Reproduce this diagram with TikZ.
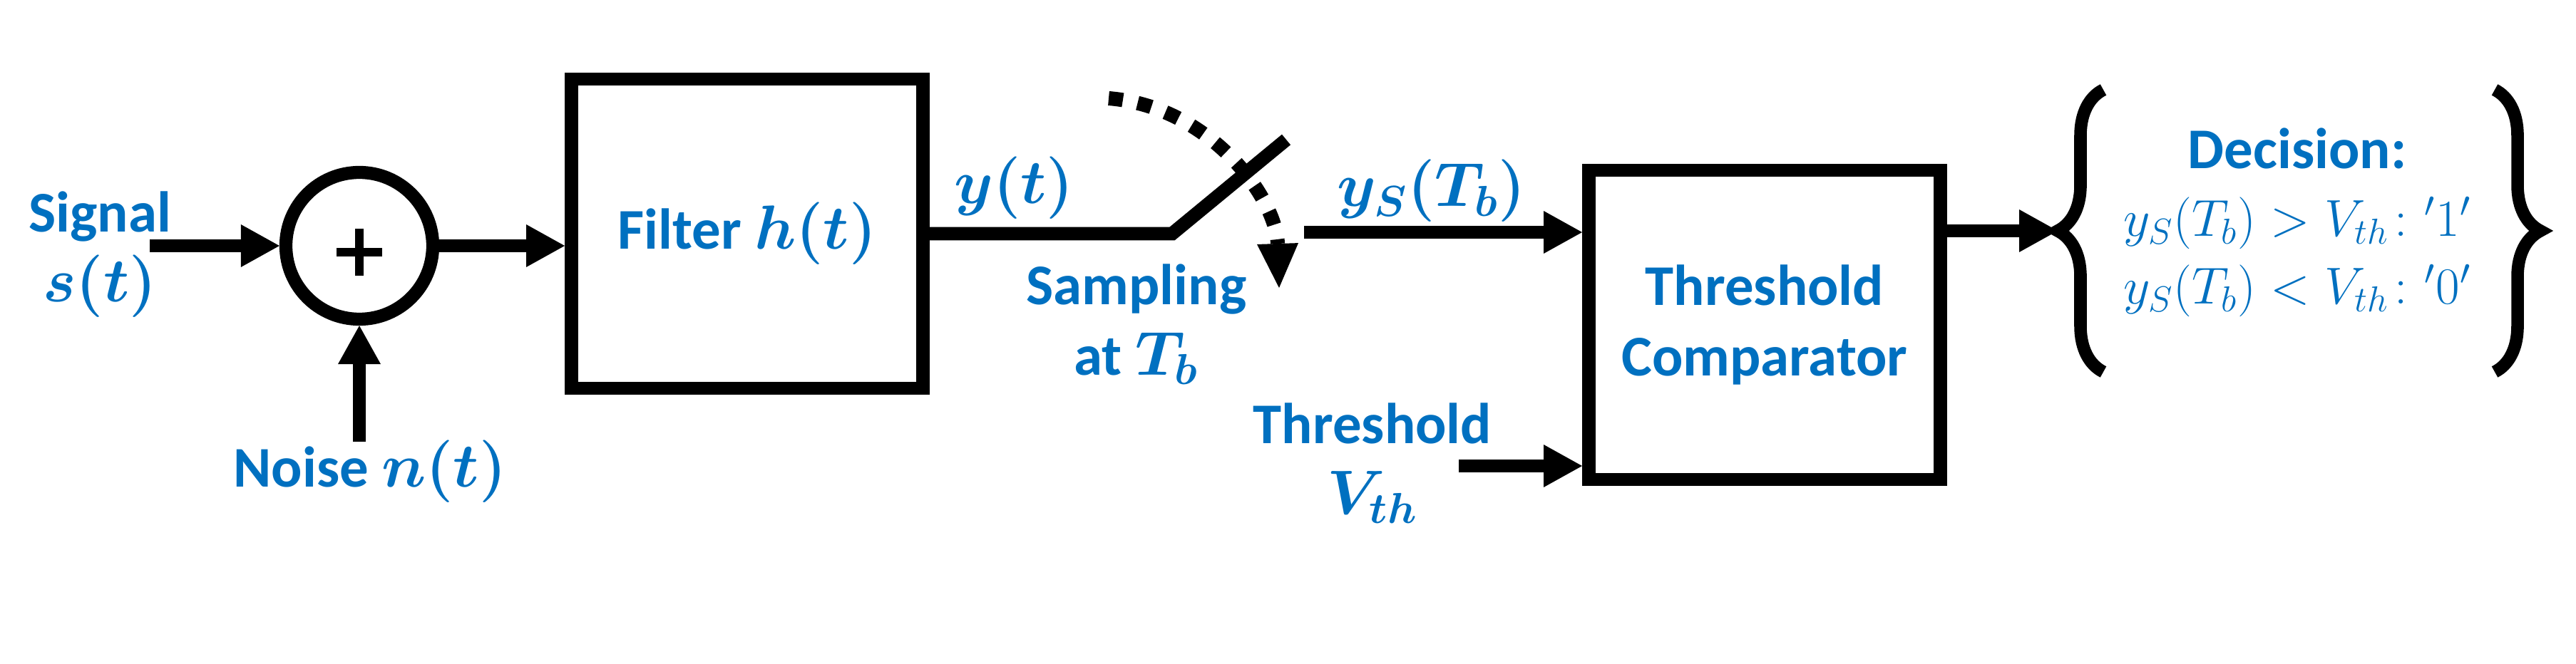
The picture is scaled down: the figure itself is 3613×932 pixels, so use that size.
\documentclass[tikz,border=0pt]{standalone}
\usepackage{fontspec}
\setmainfont{Carlito}
\usepackage{amsmath}
\usepackage{bm}
\usetikzlibrary{positioning, arrows.meta, decorations.pathreplacing}

\definecolor{labelblue}{RGB}{0,112,192}
\tikzset{
  lbl/.style={text=labelblue, align=center, inner sep=0pt, font=\fontsize{23}{28}\selectfont\bfseries\boldmath},
  lblplain/.style={text=labelblue, align=center, inner sep=0pt, font=\fontsize{21}{27}\selectfont},
  block/.style={draw, line width=5.4pt, minimum width=4.93cm, minimum height=4.34cm, lbl},
  sumcirc/.style={draw, circle, line width=5.2pt, minimum size=2.06cm},
  wire/.style={line width=5.4pt},
  flow/.style={wire, -{Triangle[length=5.4mm, width=6mm, line width=0pt]}},
  dotarrow/.style={line width=5.7pt, dash pattern=on 5.7pt off 6pt, -{Triangle[length=6.2mm, width=5.8mm, line width=0pt]}},
  curly/.style={line width=5pt, decorate, decoration={brace, amplitude=6.4mm}},
}

\begin{document}
\begin{tikzpicture}[x=0.1mm, y=-0.1mm]
\useasboundingbox (0,0) rectangle (3613,932);
% blocks
\node[sumcirc] (sum) at (504,345) {};
\node[block] (filter) at (1048,328) {Filter $h(t)$};
\node[block] (comp) at (2475,456) {Threshold\\Comparator};
\draw[line width=3.2pt] ([shift={(-32,9)}]sum.center) -- ([shift={(32,9)}]sum.center);
\draw[line width=3.2pt] ([shift={(0,-24)}]sum.center) -- ([shift={(0,42)}]sum.center);
% labels
\node[lbl] (signal) at (140,357) {Signal\\$s(t)$};
\node[lbl, anchor=base] (noise) at (519,684) {Noise $n(t)$};
\node[lbl, anchor=base] (ylab) at (1422,286) {$y(t)$};
\node[lbl] (sampling) at (1594,455) {Sampling\\at $T_b$};
\node[lbl, anchor=base] (yslab) at (2008,290) {$y_S(T_b)$};
\node[lbl] (thresh) at (1925,650) {Threshold\\$V_{th}$};
\node[lblplain] (decision) at (3222,312) {{\fontsize{23}{28}\selectfont\bfseries Decision:}\\$y_S(T_b) > V_{th}\colon{}^{\prime}1^{\prime}$\\$y_S(T_b) < V_{th}\colon{}^{\prime}0^{\prime}$};
% free ends
\coordinate (sin) at (210,345);
\coordinate (nin) at (504,620);
\coordinate (sw1) at (1644,328);
\coordinate (sw2) at (1804,196);
\coordinate (ysin) at (1829,326);
\coordinate (thin) at (2046,654);
\coordinate (dec) at (2886,324);
% connectors
\draw[flow] (sin) -- (sin -| sum.west);
\draw[flow] (nin) -- (sum.south);
\draw[flow] (sum.east) -- (sum.east -| filter.west);
\draw[wire] (filter.east) -- (sw1) -- (sw2);
\draw[dotarrow] (1555,138) .. controls (1700,150) and (1790,280) .. (1794,404);
\draw[flow] (ysin) -- (ysin -| comp.west);
\draw[flow] (thin) -- (thin -| comp.west);
\draw[flow] (comp.east |- dec) -- (dec);
% braces
\draw[curly] (2950,522) -- (2950,126);
\draw[curly] (3499,126) -- (3499,522);
\end{tikzpicture}
\end{document}
